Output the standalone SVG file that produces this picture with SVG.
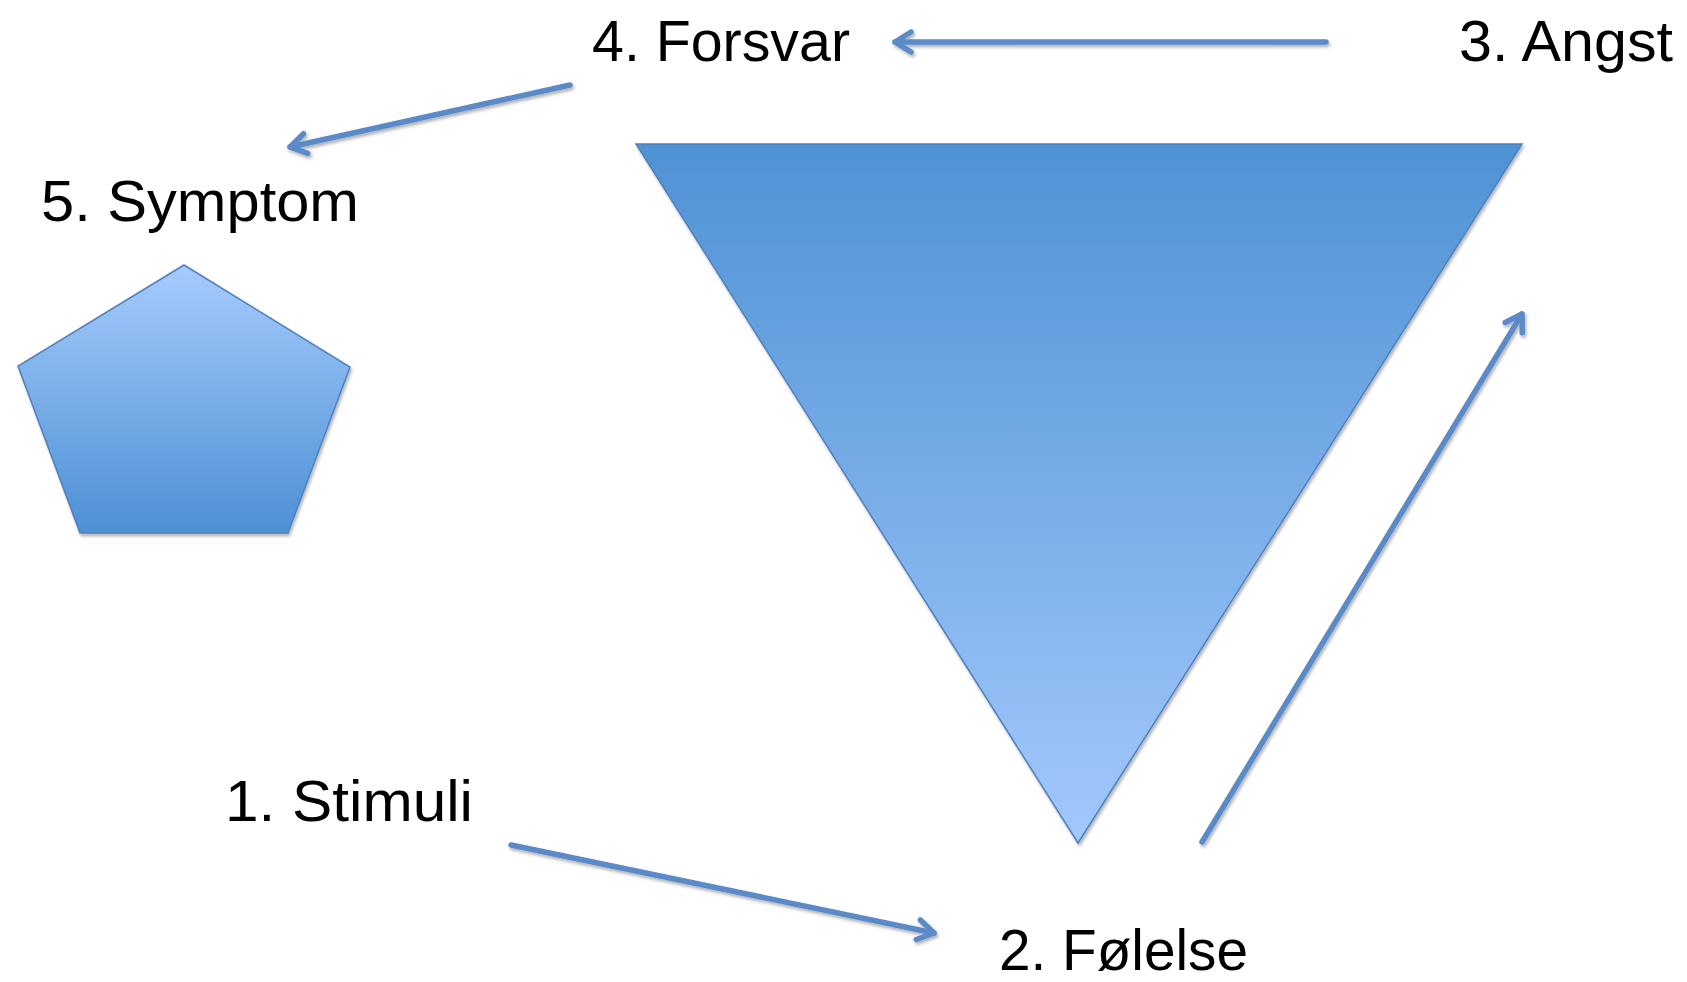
<svg xmlns="http://www.w3.org/2000/svg" width="1687" height="982" viewBox="0 0 1687 982">
<style>
.lbl{font-family:"Liberation Sans",Arial,sans-serif;font-size:58px;fill:#000}
.conn{fill:none;stroke:#5a8bc8;stroke-width:5.5;stroke-linecap:round;filter:url(#sh)}
.shape{stroke:#4f81bd;stroke-width:1.5;filter:url(#sh)}
</style>
<defs>
<linearGradient id="gTri" x1="0" y1="0" x2="0" y2="1">
<stop offset="0" stop-color="#4e92d4"/>
<stop offset="1" stop-color="#a3c8fc"/>
</linearGradient>
<linearGradient id="gPent" x1="0" y1="0" x2="0" y2="1">
<stop offset="0" stop-color="#a6cbfd"/>
<stop offset="1" stop-color="#4d90d4"/>
</linearGradient>
<filter id="sh" filterUnits="userSpaceOnUse" x="0" y="0" width="1687" height="982">
<feDropShadow dx="1.5" dy="2.5" stdDeviation="1.5" flood-color="#000" flood-opacity="0.3"/>
</filter>
<marker id="arr" markerUnits="userSpaceOnUse" viewBox="-22 -14 28 28" refX="0" refY="0" markerWidth="28" markerHeight="28" orient="auto">
<path d="M -16 -10 L 0 0 L -16 10" fill="none" stroke="#5a8bc8" stroke-width="5.5" stroke-linecap="round" stroke-linejoin="round"/>
</marker>
</defs>
<g id="triangle">
<polygon class="shape" points="636,144 1522,144 1078,843" fill="url(#gTri)"/>
</g>
<g id="pentagon">
<polygon class="shape" points="184,265 350,367 288,533 80,533 18,366" fill="url(#gPent)"/>
</g>
<g id="label-forsvar"><text class="lbl" x="592" y="61" textLength="258" lengthAdjust="spacingAndGlyphs">4. Forsvar</text></g>
<g id="label-angst"><text class="lbl" x="1459" y="61" textLength="214" lengthAdjust="spacingAndGlyphs">3. Angst</text></g>
<g id="label-symptom"><text class="lbl" x="41" y="221" textLength="318" lengthAdjust="spacingAndGlyphs">5. Symptom</text></g>
<g id="label-stimuli"><text class="lbl" x="225" y="821" textLength="248" lengthAdjust="spacingAndGlyphs">1. Stimuli</text></g>
<g id="label-folelse"><text class="lbl" x="999" y="970" textLength="249" lengthAdjust="spacingAndGlyphs">2. Følelse</text></g>
<g id="connectors">
<line class="conn" x1="1326" y1="42" x2="895" y2="42" marker-end="url(#arr)"/>
<line class="conn" x1="570" y1="85" x2="290" y2="147" marker-end="url(#arr)"/>
<line class="conn" x1="511" y1="845" x2="934" y2="933" marker-end="url(#arr)"/>
<line class="conn" x1="1202" y1="842" x2="1522" y2="314" marker-end="url(#arr)"/>
</g>
</svg>
